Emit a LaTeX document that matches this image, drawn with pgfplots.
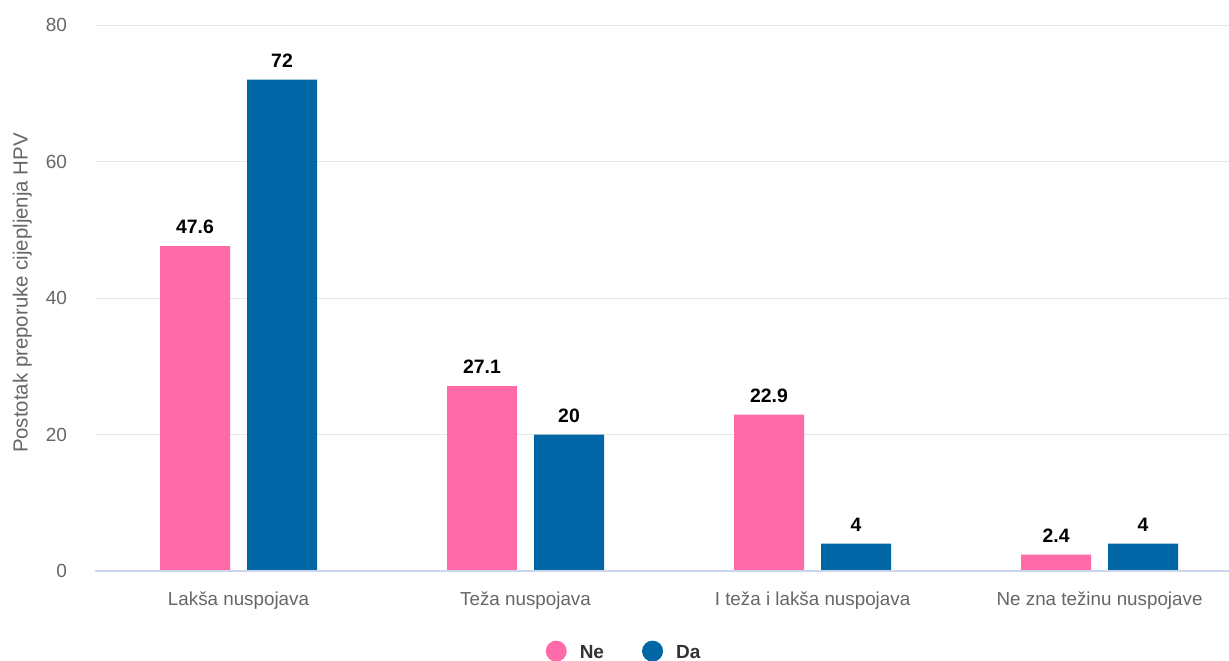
\documentclass[border=0pt]{standalone}
\usepackage{pgfplots}
\pgfplotsset{compat=1.18}
\usepackage{fontspec}
\setmainfont{Liberation Sans}
\definecolor{pinkc}{HTML}{FF6BA8}
\definecolor{bluec}{HTML}{0066A6}
\definecolor{gridc}{HTML}{E6E6E6}
\definecolor{basec}{HTML}{CCD6EB}
\definecolor{tickc}{HTML}{666666}
\definecolor{legc}{HTML}{333333}
\begin{document}
\begin{tikzpicture}
\useasboundingbox (0,0) rectangle (614.5pt,330pt);
\begin{axis}[
  at={(47.5pt,44.5pt)}, anchor=south west,
  scale only axis, width=567pt, height=273pt,
  xmin=-0.5, xmax=3.451, ymin=0, ymax=80,
  ytick={0,20,40,60,80},
  xtick={0,1,2,3},
  xticklabels={Lakša nuspojava, Teža nuspojava, I teža i lakša nuspojava, Ne zna težinu nuspojave},
  /pgf/number format/assume math mode=true,
  axis line style={draw=none},
  major tick style={draw=none},
  ymajorgrids, grid style={color=gridc, line width=0.5pt},
  yticklabel style={font=\fontsize{9.5}{10}\selectfont, text=tickc, xshift=-10.5pt},
  xticklabel style={font=\fontsize{9.4}{10}\selectfont, text=tickc, yshift=-2.5pt},
  ylabel={Postotak preporuke cijepljenja HPV},
  ylabel style={at={(axis description cs:-0.064,0.509)}, anchor=center, rotate=0, font=\fontsize{10.2}{11}\selectfont, text=tickc},
  ybar, bar width=35pt,
  nodes near coords,
  every node near coord/.append style={font=\bfseries\fontsize{9.7}{10}\selectfont, text=black, yshift=2.5pt},
  legend style={at={(axis description cs:0.4674,-0.150)}, anchor=center, draw=none, fill=none,
    legend columns=2, font=\bfseries\fontsize{9.5}{11}\selectfont, text=legc,
    /tikz/every odd column/.append style={column sep=4.5pt},
    /tikz/every even column/.append style={column sep=17pt}},
]
\addplot[fill=pinkc, draw=none, bar shift=-21.75pt,
  legend image code/.code={\fill[pinkc] (2pt,1pt) circle (5.25pt);}]
  coordinates {(0,47.6) (1,27.1) (2,22.9) (3,2.4)};
\addlegendentry{Ne}
\addplot[fill=bluec, draw=none, bar shift=21.75pt,
  legend image code/.code={\fill[bluec] (2pt,1pt) circle (5.25pt);}]
  coordinates {(0,72) (1,20) (2,4) (3,4)};
\addlegendentry{Da}
\draw[color=basec, line width=0.6pt] (axis cs:-0.5,0) -- (axis cs:3.451,0);
\end{axis}
\end{tikzpicture}
\end{document}
